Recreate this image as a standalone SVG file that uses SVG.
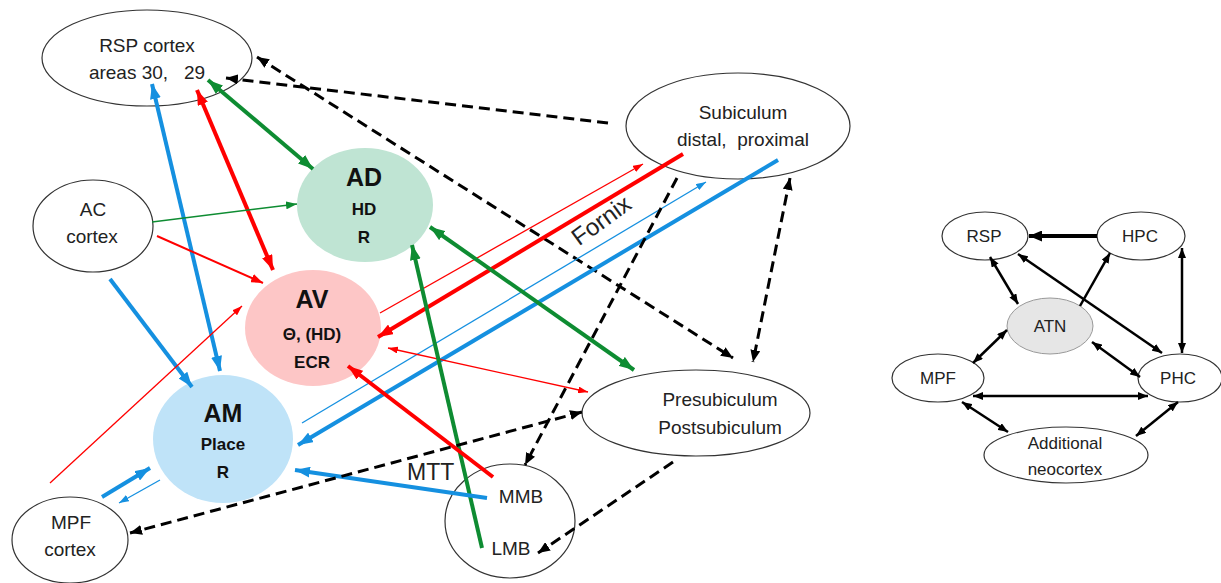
<svg xmlns="http://www.w3.org/2000/svg" width="1221" height="583" viewBox="0 0 1221 583">
<style>
text{font-family:"Liberation Sans",Arial,sans-serif;fill:#222;text-anchor:middle}
.n{font-size:19px}
.big{font-size:25px;font-weight:bold;fill:#111}
.sub{font-size:17px;font-weight:bold;fill:#111}
.rt{font-size:17px}
.ol{fill:#fff;stroke:#333;stroke-width:1.2}
.c{fill:none;stroke-linecap:butt}
.b{stroke:#1590e0}
.r{stroke:#ff0000}
.g{stroke:#0e8c32}
.k{stroke:#000}
.T{stroke-width:4}
.t{stroke-width:1.3}
.d{stroke:#000;stroke-width:3;stroke-dasharray:11 6}
.rk{stroke:#000;stroke-width:2.5}
</style>
<defs>
<marker id="bL" markerUnits="userSpaceOnUse" markerWidth="15" markerHeight="11" refX="15" refY="5.5" orient="auto-start-reverse"><path d="M0,0 L15,5.5 L0,11 Z" fill="#1590e0"/></marker>
<marker id="bS" markerUnits="userSpaceOnUse" markerWidth="10" markerHeight="7" refX="10" refY="3.5" orient="auto-start-reverse"><path d="M0,0 L10,3.5 L0,7 Z" fill="#1590e0"/></marker>
<marker id="rL" markerUnits="userSpaceOnUse" markerWidth="15" markerHeight="11" refX="15" refY="5.5" orient="auto-start-reverse"><path d="M0,0 L15,5.5 L0,11 Z" fill="#ff0000"/></marker>
<marker id="rM" markerUnits="userSpaceOnUse" markerWidth="12" markerHeight="9" refX="12" refY="4.5" orient="auto-start-reverse"><path d="M0,0 L12,4.5 L0,9 Z" fill="#ff0000"/></marker>
<marker id="rS" markerUnits="userSpaceOnUse" markerWidth="10" markerHeight="7" refX="10" refY="3.5" orient="auto-start-reverse"><path d="M0,0 L10,3.5 L0,7 Z" fill="#ff0000"/></marker>
<marker id="gL" markerUnits="userSpaceOnUse" markerWidth="15" markerHeight="11" refX="15" refY="5.5" orient="auto-start-reverse"><path d="M0,0 L15,5.5 L0,11 Z" fill="#0e8c32"/></marker>
<marker id="gS" markerUnits="userSpaceOnUse" markerWidth="11" markerHeight="8" refX="11" refY="4" orient="auto-start-reverse"><path d="M0,0 L11,4 L0,8 Z" fill="#0e8c32"/></marker>
<marker id="kD" markerUnits="userSpaceOnUse" markerWidth="12" markerHeight="10" refX="12" refY="5" orient="auto-start-reverse"><path d="M0,0 L12,5 L0,10 Z" fill="#000"/></marker>
<marker id="kR" markerUnits="userSpaceOnUse" markerWidth="10" markerHeight="8" refX="10" refY="4" orient="auto-start-reverse"><path d="M0,0 L10,4 L0,8 Z" fill="#000"/></marker>
<marker id="kRL" markerUnits="userSpaceOnUse" markerWidth="13" markerHeight="11" refX="13" refY="5.5" orient="auto-start-reverse"><path d="M0,0 L13,5.5 L0,11 Z" fill="#000"/></marker>
</defs>

<g id="node-rsp-cortex"><ellipse class="ol" cx="147" cy="58" rx="105" ry="48"/><text class="n" x="147" y="52">RSP cortex</text><text class="n" x="147" y="79" style="white-space:pre">areas 30,   29</text></g>
<g id="node-subiculum"><ellipse class="ol" cx="738" cy="126" rx="112" ry="53"/><text class="n" x="743" y="119">Subiculum</text><text class="n" x="743" y="146" style="white-space:pre">distal,  proximal</text></g>
<g id="node-ac-cortex"><ellipse class="ol" cx="93" cy="226" rx="60" ry="46"/><text class="n" x="93" y="216">AC</text><text class="n" x="92" y="243">cortex</text></g>
<g id="node-ad"><ellipse cx="365" cy="205" rx="68" ry="57" fill="#bfe4d3"/><text class="big" x="364" y="186">AD</text><text class="sub" x="364" y="215">HD</text><text class="sub" x="364" y="243">R</text></g>
<g id="node-av"><ellipse cx="313" cy="328" rx="68" ry="58" fill="#fdc6c6"/><text class="big" x="312" y="308">AV</text><text class="sub" x="312" y="340">Θ, (HD)</text><text class="sub" x="312" y="368">ECR</text></g>
<g id="node-am"><ellipse cx="223" cy="439" rx="70" ry="64" fill="#bfe3f8"/><text class="big" x="223" y="422">AM</text><text class="sub" x="223" y="450">Place</text><text class="sub" x="223" y="478">R</text></g>
<g id="node-mpf-cortex"><ellipse class="ol" cx="70" cy="540" rx="58" ry="43"/><text class="n" x="71" y="529">MPF</text><text class="n" x="70" y="556">cortex</text></g>
<g id="node-mb"><ellipse class="ol" cx="510" cy="521" rx="65" ry="57"/><text class="n" x="521" y="503">MMB</text><text class="n" x="511" y="555">LMB</text></g>
<g id="node-presubiculum"><ellipse class="ol" cx="696" cy="413" rx="114" ry="43"/><text class="n" x="720" y="406">Presubiculum</text><text class="n" x="720" y="434">Postsubiculum</text></g>

<g id="node-r-rsp"><ellipse class="ol" cx="985" cy="236" rx="43" ry="24"/><text class="rt" x="984" y="242">RSP</text></g>
<g id="node-r-hpc"><ellipse class="ol" cx="1141" cy="236" rx="44" ry="24"/><text class="rt" x="1140" y="242">HPC</text></g>
<g id="node-r-atn"><ellipse cx="1050" cy="326" rx="43" ry="28" fill="#e6e6e6" stroke="#999" stroke-width="1"/><text class="rt" x="1050" y="332">ATN</text></g>
<g id="node-r-mpf"><ellipse class="ol" cx="938" cy="378" rx="46" ry="24"/><text class="rt" x="938" y="384">MPF</text></g>
<g id="node-r-phc"><ellipse class="ol" cx="1180" cy="378" rx="42" ry="24"/><text class="rt" x="1178" y="384">PHC</text></g>
<g id="node-r-additional"><ellipse class="ol" cx="1066" cy="455" rx="82" ry="28"/><text class="rt" x="1065" y="449">Additional</text><text class="rt" x="1065" y="475">neocortex</text></g>

<g id="connectors">
<line class="c b T" x1="152" y1="84" x2="220" y2="371" marker-start="url(#bL)" marker-end="url(#bL)"/>
<line class="c r T" x1="197" y1="90" x2="273" y2="270" marker-start="url(#rL)" marker-end="url(#rL)"/>
<line class="c g T" x1="208" y1="80" x2="313" y2="169" marker-start="url(#gL)" marker-end="url(#gL)"/>
<line class="c d" x1="257" y1="57" x2="733" y2="358" marker-start="url(#kD)" marker-end="url(#kD)"/>
<line class="c d" x1="608" y1="123" x2="226" y2="78" marker-end="url(#kD)"/>
<line class="c g" stroke-width="1.5" x1="152" y1="222" x2="297" y2="204" marker-end="url(#gS)"/>
<line class="c r" stroke-width="2" x1="157" y1="236" x2="263" y2="283" marker-end="url(#rM)"/>
<line class="c b T" x1="110" y1="279" x2="192" y2="387" marker-end="url(#bL)"/>
<line class="c r t" x1="50" y1="483" x2="242" y2="306" marker-end="url(#rS)"/>
<line class="c r t" x1="380" y1="313" x2="643" y2="164" marker-end="url(#rS)"/>
<line class="c r T" x1="683" y1="154" x2="378" y2="337" marker-end="url(#rL)"/>
<line class="c b t" x1="302" y1="423" x2="706" y2="182" marker-end="url(#bS)"/>
<line class="c b T" x1="778" y1="160" x2="298" y2="445" marker-end="url(#bL)"/>
<line class="c r t" x1="388" y1="348" x2="588" y2="392" marker-start="url(#rS)" marker-end="url(#rS)"/>
<line class="c g T" x1="430" y1="227" x2="634" y2="370" marker-start="url(#gL)" marker-end="url(#gL)"/>
<line class="c g T" x1="482" y1="548" x2="412" y2="245" marker-end="url(#gL)"/>
<line class="c r T" x1="493" y1="477" x2="348" y2="366" marker-end="url(#rL)"/>
<line class="c b T" x1="487" y1="498" x2="295" y2="470" marker-end="url(#bL)"/>
<line class="c d" x1="677" y1="178" x2="525" y2="465" marker-end="url(#kD)"/>
<line class="c d" x1="790" y1="178" x2="753" y2="362" marker-start="url(#kD)" marker-end="url(#kD)"/>
<line class="c d" x1="582" y1="412" x2="130" y2="533" marker-start="url(#kD)" marker-end="url(#kD)"/>
<line class="c d" x1="673" y1="462" x2="538" y2="553" marker-end="url(#kD)"/>
<line class="c b T" x1="102" y1="497" x2="150" y2="468" marker-end="url(#bL)"/>
<line class="c b t" x1="160" y1="480" x2="119" y2="503" marker-end="url(#bS)"/>
<text x="606" y="227" font-size="24" transform="rotate(-36 606 227)">Fornix</text>
<text x="407" y="480" font-size="23" style="text-anchor:start">MTT</text>

<line class="c k" stroke-width="4" x1="1097" y1="236" x2="1029" y2="236" marker-end="url(#kRL)"/>
<line class="c rk" x1="990" y1="257" x2="1018" y2="304" marker-start="url(#kR)" marker-end="url(#kR)"/>
<line class="c rk" x1="1080" y1="306" x2="1110" y2="253" marker-end="url(#kR)"/>
<line class="c rk" x1="1018" y1="254" x2="1162" y2="353" marker-start="url(#kR)" marker-end="url(#kR)"/>
<line class="c rk" x1="1182" y1="248" x2="1182" y2="353" marker-start="url(#kR)" marker-end="url(#kR)"/>
<line class="c rk" x1="1007" y1="330" x2="973" y2="363" marker-start="url(#kR)" marker-end="url(#kR)"/>
<line class="c rk" x1="1092" y1="342" x2="1140" y2="377" marker-start="url(#kR)" marker-end="url(#kR)"/>
<line class="c rk" x1="973" y1="396" x2="1148" y2="396" marker-start="url(#kR)" marker-end="url(#kR)"/>
<line class="c rk" x1="962" y1="402" x2="1008" y2="432" marker-start="url(#kR)" marker-end="url(#kR)"/>
<line class="c rk" x1="1178" y1="402" x2="1136" y2="436" marker-start="url(#kR)" marker-end="url(#kR)"/>
</g>
</svg>
